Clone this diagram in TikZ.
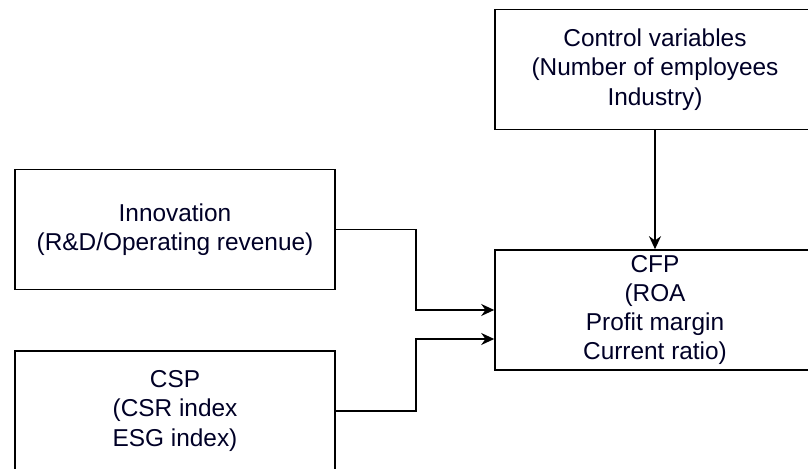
\documentclass[tikz,border=0pt]{standalone}
\usepackage{fontspec}
\setmainfont{Liberation Sans}
\usepackage{tikz}
\usetikzlibrary{arrows.meta,positioning,calc}
\tikzstyle{varbox}=[draw,rectangle,minimum width=160pt,minimum height=60pt,inner sep=0pt,align=center,font=\fontsize{12.2pt}{14.6pt}\selectfont,text=black!85!blue]
\tikzstyle{link}=[-{Stealth[length=6.5pt,width=6pt]}]

\begin{document}
\begin{tikzpicture}[x=1pt,y=1pt,line width=0.8pt]
    \useasboundingbox (0,0) rectangle (404,-234.5);
    \clip (0,0) rectangle (404,-234.5);
    \node [varbox] (ctrl) at (327.5,-34.75) {Control variables\\(Number of employees\\Industry)};
    \node [varbox] (inno) at (87.5,-114.75) {Innovation\\(R\&D/Operating revenue)};
    \node [varbox] (csp) at (87.5,-205.5) {CSP\\(CSR index\\ESG index)};
    \node [varbox] (cfp) at (327.5,-155) {CFP\\(ROA\\Profit margin\\Current ratio)};
    \draw [link] (ctrl.south) -- (cfp.north);
    \draw [link] (inno.east) -- ++(40,0) |- (cfp.west);
    \draw [link] (csp.east) -- ++(40,0) |- ($(cfp.west)+(0,-14.5)$);
\end{tikzpicture}
\end{document}
